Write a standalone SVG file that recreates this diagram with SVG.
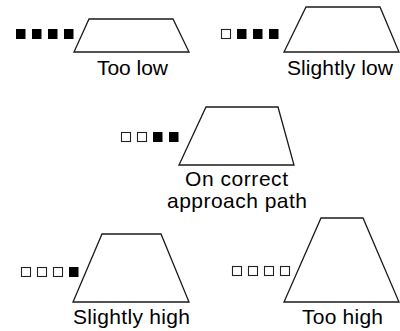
<svg xmlns="http://www.w3.org/2000/svg" width="400" height="331" viewBox="0 0 400 331">
<style>
.trap{fill:#fff;stroke:#1a1a1a;stroke-width:1.3;stroke-linejoin:miter}
.on{fill:#000}
.off{fill:#fff;stroke:#222;stroke-width:1.1}
.lbl{font-family:"Liberation Sans",Arial,sans-serif;font-size:21px;fill:#000}
</style>
<rect width="400" height="331" fill="#fff"/>
<g id="too-low">
<polygon class="trap" points="89,19 173,19 189,52 74,52"/>
<rect class="on" x="16" y="29" width="9.5" height="10"/>
<rect class="on" x="32" y="29" width="9.5" height="10"/>
<rect class="on" x="48" y="29" width="9.5" height="10"/>
<rect class="on" x="64" y="29" width="9.5" height="10"/>
<text class="lbl" x="97" y="74.5" textLength="71">Too low</text>
</g>
<g id="slightly-low">
<polygon class="trap" points="306,7 380,7 399,52 284,52"/>
<rect class="off" x="221.5" y="29.5" width="9" height="9"/>
<rect class="on" x="237" y="29" width="9.5" height="10"/>
<rect class="on" x="253" y="29" width="9.5" height="10"/>
<rect class="on" x="269" y="29" width="9.5" height="10"/>
<text class="lbl" x="287" y="75" textLength="106">Slightly low</text>
</g>
<g id="on-path">
<polygon class="trap" points="206,107 278,107 294,165 179,165"/>
<rect class="off" x="121.5" y="132.5" width="9" height="9"/>
<rect class="off" x="137.5" y="132.5" width="9" height="9"/>
<rect class="on" x="153" y="132" width="9.5" height="10"/>
<rect class="on" x="169" y="132" width="9.5" height="10"/>
<text class="lbl" x="185" y="186" textLength="103">On correct</text>
<text class="lbl" x="167" y="208" textLength="140">approach path</text>
</g>
<g id="slightly-high">
<polygon class="trap" points="102,234 161,234 189,302 73,302"/>
<rect class="off" x="21.5" y="267.5" width="9" height="9"/>
<rect class="off" x="37.5" y="267.5" width="9" height="9"/>
<rect class="off" x="53.5" y="267.5" width="9" height="9"/>
<rect class="on" x="69" y="267" width="9.5" height="10"/>
<text class="lbl" x="73" y="324" textLength="117">Slightly high</text>
</g>
<g id="too-high">
<polygon class="trap" points="321,218 363,218 399,302 284,302"/>
<rect class="off" x="232.5" y="266.5" width="9" height="9"/>
<rect class="off" x="248.5" y="266.5" width="9" height="9"/>
<rect class="off" x="264.5" y="266.5" width="9" height="9"/>
<rect class="off" x="280.5" y="266.5" width="9" height="9"/>
<text class="lbl" x="302" y="323.5" textLength="81">Too high</text>
</g>
</svg>
